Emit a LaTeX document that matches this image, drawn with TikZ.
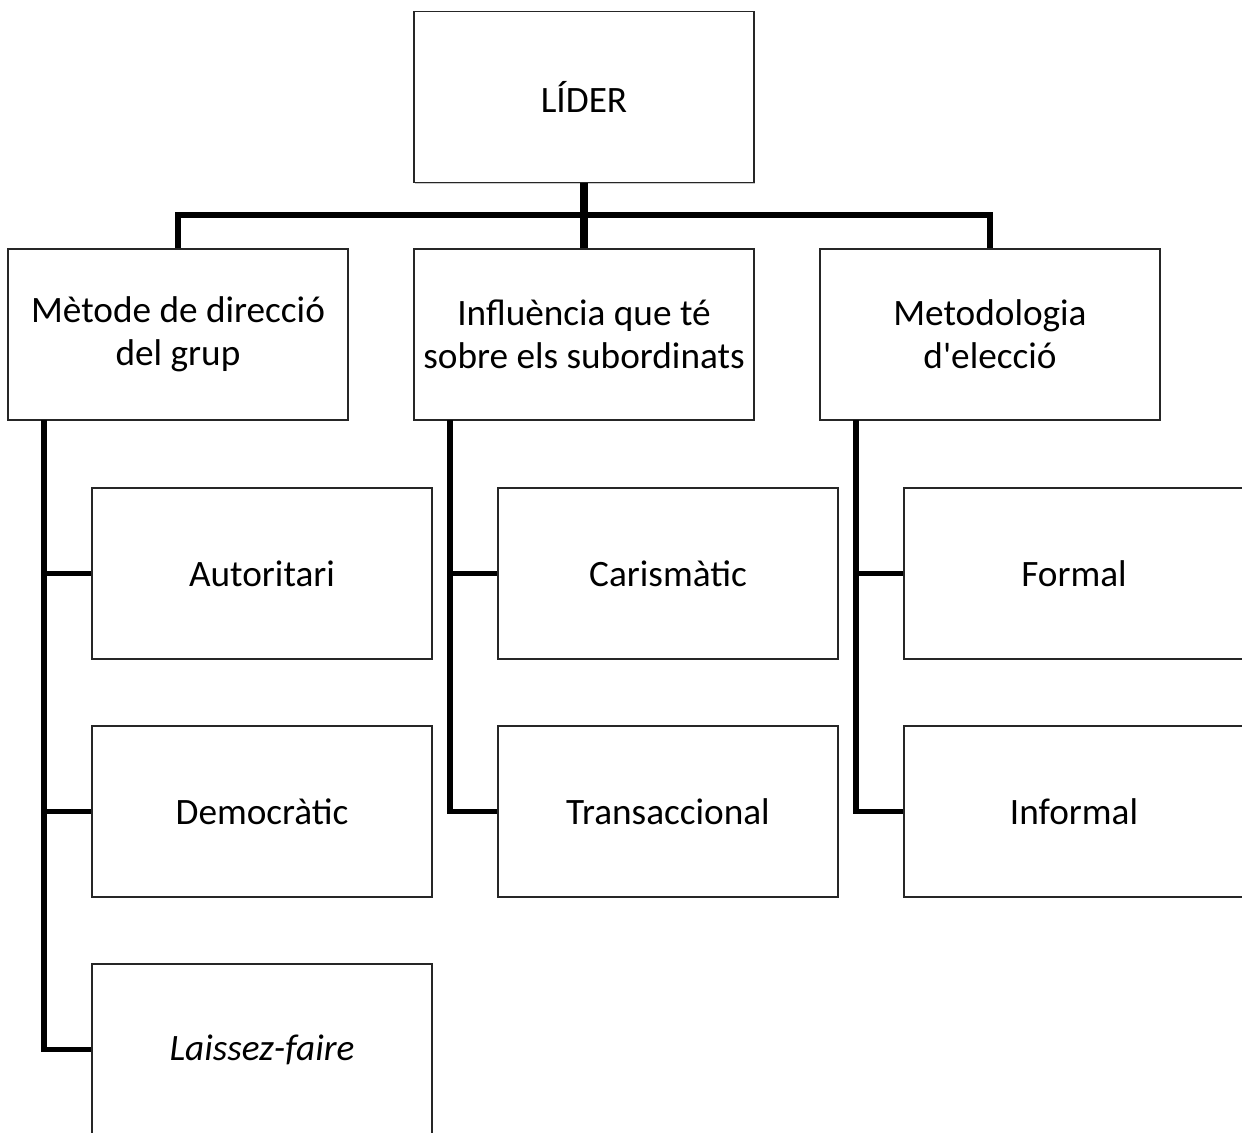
\documentclass[tikz,border=0pt]{standalone}
\usepackage{fontspec}
\setmainfont{Carlito}
\usetikzlibrary{shadows}
\begin{document}
\begin{tikzpicture}[x=0.02cm,y=-0.02cm,
  box/.style={draw=black!85,line width=0.7pt,fill=white,minimum width=6.8cm,minimum height=3.42cm,
    inner sep=2pt,align=center,font=\fontsize{21.2}{24.5}\selectfont,
    drop shadow={shadow xshift=0.6pt,shadow yshift=-0.8pt,opacity=0.35,fill=black!60}},
  conn/.style={line width=3.2pt,black},
  trunk/.style={line width=4pt,black}]
\useasboundingbox (0,0) rectangle (1242,1133);
\clip (0,0) rectangle (1242,1133);
% top
\node[box] (lider) at (584,97) {LÍDER};
% level 2
\node[box] (m1) at (178,334.5) {Mètode de direcció\\del grup};
\node[box] (m2) at (584,334.5) {Influència que té\\sobre els subordinats};
\node[box] (m3) at (990,334.5) {Metodologia\\{\addfontfeatures{Ligatures=TeXOff}d'elecció}};
% children
\node[box] (c11) at (262,573.5) {Autoritari};
\node[box] (c12) at (262,811.5) {Democràtic};
\node[box] (c13) at (262,1049.5) {\itshape Laissez-faire};
\node[box] (c21) at (668,573.5) {Carismàtic};
\node[box] (c22) at (668,811.5) {Transaccional};
\node[box] (c31) at (1074,573.5) {Formal};
\node[box] (c32) at (1074,811.5) {Informal};
% connectors
\coordinate (bar) at (584,215);
\coordinate (sp1) at (44,420);
\coordinate (sp2) at (450,420);
\coordinate (sp3) at (856,420);
\draw[trunk] (lider.south) -- (m2.north);
\draw[conn] (m1.north) -- (m1.north |- bar) -- (m3.north |- bar) -- (m3.north);
\draw[conn] (sp1) |- (c13.west);
\draw[conn] (sp1 |- c11.west) -- (c11.west);
\draw[conn] (sp1 |- c12.west) -- (c12.west);
\draw[conn] (sp2) |- (c22.west);
\draw[conn] (sp2 |- c21.west) -- (c21.west);
\draw[conn] (sp3) |- (c32.west);
\draw[conn] (sp3 |- c31.west) -- (c31.west);
\end{tikzpicture}
\end{document}
